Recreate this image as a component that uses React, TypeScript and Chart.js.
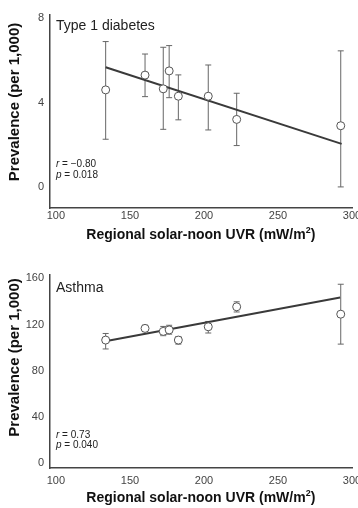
import React, { useEffect, useRef } from "react";
import { Chart, registerables } from "chart.js";

Chart.register(...registerables);

// Shared x values: regional solar-noon UVR (mW/m2)
const UVR = [133.6, 160.2, 172.5, 176.5, 182.7, 202.9, 222.1, 292.4];
const X_TICKS = [100, 150, 200, 250, 300];

// Type 1 diabetes prevalence (per 1,000)
const T1D = [4.6, 5.3, 4.65, 5.5, 4.3, 4.3, 3.2, 2.9];
const T1D_LOW = [2.26, 4.28, 2.73, 4.23, 3.18, 2.7, 1.96, 0.0];
const T1D_HIGH = [6.89, 6.3, 6.62, 6.7, 5.31, 5.78, 4.44, 6.45];
const T1D_FIT_X = [133.6, 293];
const T1D_FIT_Y = [5.67, 2.04];
const T1D_TICKS = [0, 4, 8];

// Asthma prevalence (per 1,000)
const ASTHMA = [106.7, 116.8, 114.2, 115.5, 106.7, 118.2, 135.5, 129.1];
const ASTHMA_LOW = [99.0, 114.0, 110.5, 111.8, 103.2, 112.8, 131.0, 103.2];
const ASTHMA_HIGH = [112.4, 119.5, 118.5, 119.5, 109.8, 122.8, 139.8, 155.0];
const ASTHMA_FIT_X = [131.5, 292];
const ASTHMA_FIT_Y = [105.2, 143.6];
const ASTHMA_TICKS = [0, 40, 80, 120, 160];

const FONT = "'Liberation Sans', Arial, Helvetica, sans-serif";

type PanelProps = {
  height: number;
  padTop: number;
  xAxisH: number;
  xTickPad: number;
  yMin: number;
  yMax: number;
  yTicks: number[];
  ys: number[];
  low: number[];
  high: number[];
  fitX: number[];
  fitY: number[];
  label: string;
  labelY: number;
  rText: string;
  pText: string;
  rY: number;
  pY: number;
  yTitleY: number;
  xTitleY: number;
};

function Panel(props: PanelProps) {
  const ref = useRef<HTMLCanvasElement | null>(null);
  useEffect(() => {
    if (!ref.current) return;
    const p = props;
    const errorBars = {
      id: "errorBars",
      beforeDatasetsDraw(chart: any) {
        const { ctx, scales } = chart;
        const x = scales.x;
        const y = scales.y;
        ctx.save();
        ctx.strokeStyle = "#666";
        ctx.lineWidth = 1;
        p.low.forEach((lo, i) => {
          const px = x.getPixelForValue(UVR[i]);
          const p1 = y.getPixelForValue(lo);
          const p2 = y.getPixelForValue(p.high[i]);
          ctx.beginPath();
          ctx.moveTo(px, p1);
          ctx.lineTo(px, p2);
          ctx.moveTo(px - 3, p1);
          ctx.lineTo(px + 3, p1);
          ctx.moveTo(px - 3, p2);
          ctx.lineTo(px + 3, p2);
          ctx.stroke();
        });
        ctx.restore();
      },
    };
    const texts = {
      id: "texts",
      afterDraw(chart: any) {
        const { ctx } = chart;
        ctx.save();
        ctx.fillStyle = "#222";
        ctx.textBaseline = "middle";
        ctx.textAlign = "left";
        ctx.font = `14px ${FONT}`;
        ctx.fillText(p.label, 56, p.labelY);
        const stat = (sym: string, rest: string, yy: number) => {
          ctx.font = `italic 10px ${FONT}`;
          ctx.fillText(sym, 56, yy);
          const w = ctx.measureText(sym).width;
          ctx.font = `10px ${FONT}`;
          ctx.fillText(rest, 56 + w, yy);
        };
        stat("r", p.rText, p.rY);
        stat("p", p.pText, p.pY);
        // axis titles
        ctx.fillStyle = "#111";
        ctx.font = `bold 14px ${FONT}`;
        ctx.textAlign = "center";
        ctx.fillText("Regional solar-noon UVR (mW/m", 196, p.xTitleY);
        const wMain = ctx.measureText("Regional solar-noon UVR (mW/m").width;
        const startX = 196 + wMain / 2;
        ctx.textAlign = "left";
        ctx.font = `bold 9px ${FONT}`;
        ctx.fillText("2", startX, p.xTitleY - 4);
        const w2 = ctx.measureText("2").width;
        ctx.font = `bold 14px ${FONT}`;
        ctx.fillText(")", startX + w2, p.xTitleY);
        ctx.translate(15, p.yTitleY);
        ctx.rotate(-Math.PI / 2);
        ctx.textAlign = "center";
        ctx.font = `bold 15px ${FONT}`;
        ctx.fillText("Prevalence (per 1,000)", 0, 0);
        ctx.restore();
      },
    };
    const chart = new Chart(ref.current, {
      type: "scatter",
      data: {
        datasets: [
          {
            data: p.fitX.map((v, i) => ({ x: v, y: p.fitY[i] })),
            showLine: true,
            borderColor: "#3a3a3a",
            borderWidth: 2,
            pointRadius: 0,
            order: 2,
          },
          {
            data: UVR.map((v, i) => ({ x: v, y: p.ys[i] })),
            pointRadius: 4,
            pointBorderWidth: 1,
            borderColor: "#555",
            backgroundColor: "#fff",
            order: 1,
          },
        ],
      },
      options: {
        animation: false,
        responsive: false,
        events: [],
        layout: { padding: { top: p.padTop, right: 6, left: 0, bottom: 0 } },
        plugins: { legend: { display: false }, tooltip: { enabled: false } },
        scales: {
          x: {
            type: "linear",
            min: 96,
            max: 300,
            grid: { display: false, drawTicks: false },
            border: { display: true, color: "#444", width: 1.5 },
            ticks: {
              padding: p.xTickPad,
              color: "#444",
              font: { family: FONT, size: 11 },
              maxRotation: 0,
            },
            afterBuildTicks: (s: any) => {
              s.ticks = X_TICKS.map((v) => ({ value: v }));
            },
            afterFit: (s: any) => {
              s.height = p.xAxisH;
              s.paddingLeft = 0;
              s.paddingRight = 0;
            },
          },
          y: {
            type: "linear",
            min: p.yMin,
            max: p.yMax,
            grid: { display: false, drawTicks: false },
            border: { display: true, color: "#444", width: 1.5 },
            ticks: {
              padding: 6,
              color: "#444",
              font: { family: FONT, size: 11 },
            },
            afterBuildTicks: (s: any) => {
              s.ticks = p.yTicks.map((v) => ({ value: v }));
            },
            afterFit: (s: any) => {
              s.width = 50;
              s.paddingTop = 0;
              s.paddingBottom = 0;
            },
          },
        },
      },
      plugins: [errorBars, texts],
    } as any);
    return () => chart.destroy();
  }, []);
  return (
    <canvas
      ref={ref}
      width={358}
      height={props.height}
      style={{ display: "block", width: 358, height: props.height }}
    />
  );
}

export default function App() {
  return (
    <div style={{ position: "absolute", left: 0, top: 0, width: 358, height: 508, background: "#fff" }}>
      <Panel
        height={250}
        padTop={15}
        xAxisH={42}
        xTickPad={1}
        yMin={-1}
        yMax={8.15}
        yTicks={T1D_TICKS}
        ys={T1D}
        low={T1D_LOW}
        high={T1D_HIGH}
        fitX={T1D_FIT_X}
        fitY={T1D_FIT_Y}
        label="Type 1 diabetes"
        labelY={26}
        rText=" = −0.80"
        pText=" = 0.018"
        rY={164}
        pY={175.5}
        yTitleY={102}
        xTitleY={235}
      />
      <Panel
        height={258}
        padTop={25}
        xAxisH={40}
        xTickPad={6}
        yMin={-4}
        yMax={163}
        yTicks={ASTHMA_TICKS}
        ys={ASTHMA}
        low={ASTHMA_LOW}
        high={ASTHMA_HIGH}
        fitX={ASTHMA_FIT_X}
        fitY={ASTHMA_FIT_Y}
        label="Asthma"
        labelY={38}
        rText=" = 0.73"
        pText=" = 0.040"
        rY={185}
        pY={195.5}
        yTitleY={107.5}
        xTitleY={248}
      />
    </div>
  );
}
